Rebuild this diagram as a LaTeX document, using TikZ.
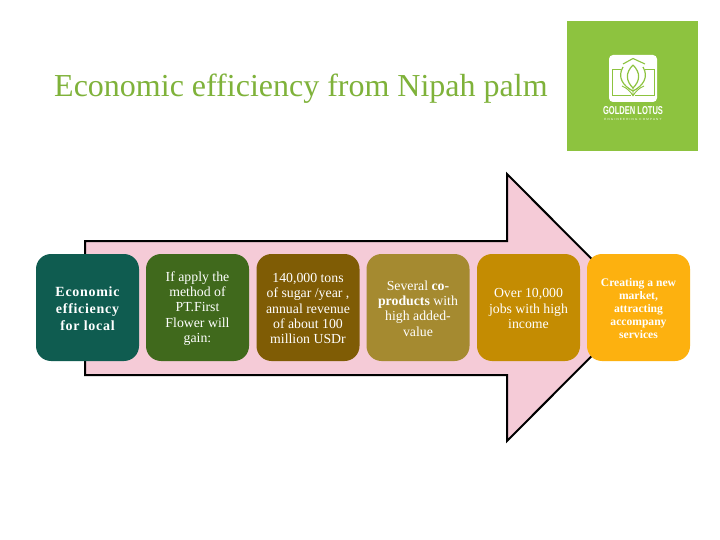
\documentclass[tikz,border=0pt]{standalone}
\usepackage{graphicx}
\usepackage{fontspec}
\setmainfont{Liberation Serif}
\newfontfamily\logofont{Liberation Sans}
\definecolor{titlegreen}{HTML}{7FB23A}
\definecolor{logogreen}{HTML}{8DC33F}
\definecolor{arrowpink}{HTML}{F5CBD7}
\definecolor{boxa}{HTML}{0F5C50}
\definecolor{boxb}{HTML}{40691C}
\definecolor{boxc}{HTML}{7F5C05}
\definecolor{boxd}{HTML}{A58A30}
\definecolor{boxe}{HTML}{C48C02}
\definecolor{boxf}{HTML}{FDB10F}
\newcommand{\stagetext}[1]{\raisebox{-1pt}[\height][\depth]{\parbox{100pt}{\centering #1}}}
\tikzset{
  stagebox/.style={rounded corners=15pt,minimum width=103pt,minimum height=107pt,inner sep=0pt,
    text=white,anchor=center},
  bodytext/.style={font=\fontsize{13.8}{15.4}\selectfont},
  logoline/.style={draw=logogreen,line width=0.9pt,fill=none},
}
\begin{document}
\begin{tikzpicture}[x=1pt,y=-1pt]
\useasboundingbox (0,0) rectangle (720,540);
\fill[white] (0,0) rectangle (720,540);
\node[anchor=west,text=titlegreen,font=\fontsize{32}{36}\selectfont,inner sep=0pt] (title) at (54,89) {Economic efficiency from Nipah palm};
% logo
\fill[logogreen] (567,21) rectangle (698,151);
\fill[white,rounded corners=4pt] (609,55) rectangle (657,102);
\draw[logoline] (621,69) -- (612,69) -- (612,95) -- (631,95) (645,69) -- (654,69) -- (654,95) -- (635,95);
\draw[logoline,line width=1.1pt] (623,64) -- (633,58.5) -- (645,64);
\draw[logoline,line width=1.2pt] (633,65) .. controls (625,73) and (626,81) .. (633,88) .. controls (640,81) and (641,73) .. (633,65);
\draw[logoline,line width=1.2pt] (623,67) .. controls (617,77) and (623,86) .. (633,91) .. controls (643,86) and (649,77) .. (643,67);
\draw[logoline] (633,88) -- (633,96) (622,86) .. controls (627,88) and (631,92) .. (633,96) (644,86) .. controls (639,88) and (635,92) .. (633,96);
\node[text=white,font=\logofont\bfseries\fontsize{11}{12}\selectfont,inner sep=0pt] (logoname) at (633,111) {\resizebox{60pt}{8pt}{GOLDEN LOTUS}};
\node[text=white,font=\logofont\fontsize{3}{4}\selectfont,inner sep=0pt] (logosub) at (633,119) {\addfontfeature{LetterSpace=40}ENGINEERING COMPANY};
% arrow
\draw[fill=arrowpink,draw=black,line width=2pt,line join=miter]
  (85,241) -- (507,241) -- (507,174) -- (640,307.5) -- (507,441) -- (507,375) -- (85,375) -- cycle;
% boxes
\node[stagebox,fill=boxa,font=\bfseries\fontsize{14}{17}\selectfont] (s1) at (87.5,307.5)
  {\stagetext{\addfontfeature{LetterSpace=5}Economic\\efficiency\\for local}};
\node[stagebox,fill=boxb,bodytext] (s2) at (197.5,307.5) {\stagetext{If apply the\\method of\\PT.First\\Flower will\\gain:}};
\node[stagebox,fill=boxc,bodytext] (s3) at (308,307.5) {\stagetext{140,000 tons\\of sugar /year ,\\annual revenue\\of about 100\\million USDr}};
\node[stagebox,fill=boxd,bodytext] (s4) at (418,307.5) {\stagetext{Several \textbf{co-}\\\textbf{products} with\\high added-\\value}};
\node[stagebox,fill=boxe,bodytext] (s5) at (528.5,307.5) {\stagetext{Over 10,000\\jobs with  high\\income}};
\node[stagebox,fill=boxf,font=\bfseries\fontsize{11.6}{13}\selectfont] (s6) at (638.5,307.5) {\stagetext{Creating a new\\market,\\attracting\\accompany\\services}};
\end{tikzpicture}
\end{document}
